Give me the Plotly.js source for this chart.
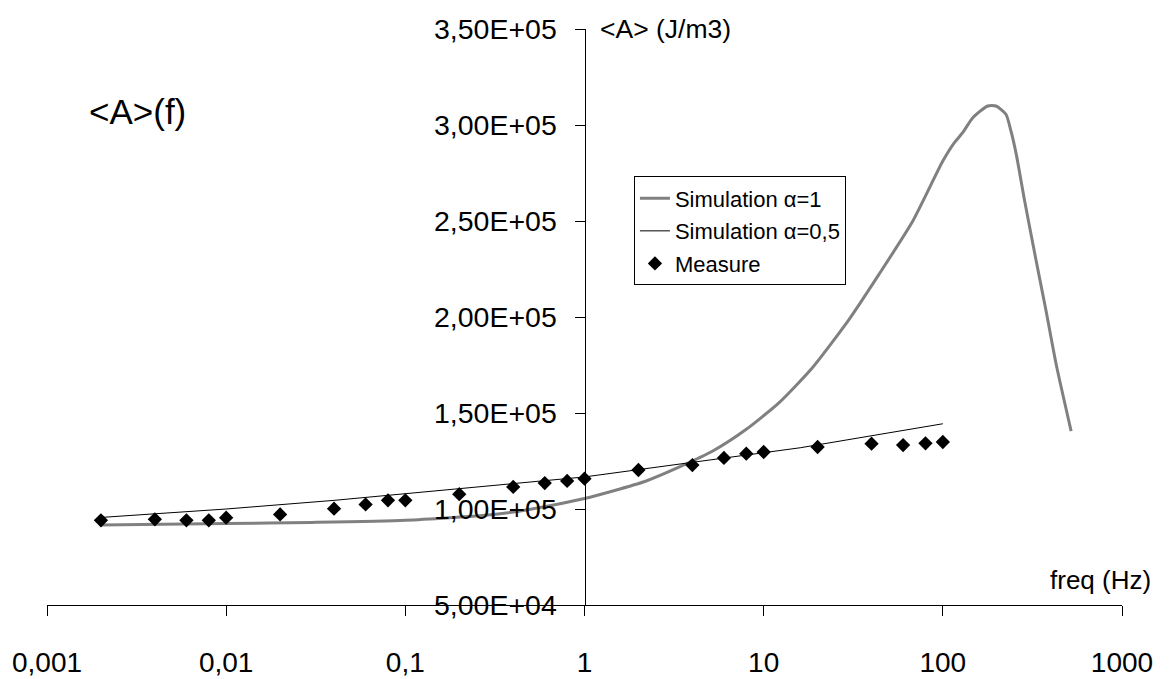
<!DOCTYPE html>
<html>
<head>
<meta charset="utf-8">
<script src="https://cdn.plot.ly/plotly-3.0.1.min.js"></script>
<style>html,body{margin:0;padding:0;background:#fff;}#chart{width:1169px;height:679px;}</style>
</head>
<body>
<div id="chart"></div>
<script>
// Simulation alpha = 1 (grey curve)
const sim1Freq = [0.002, 0.01, 0.03, 0.1, 0.3, 0.5, 1, 1.44, 2.21, 3.39, 5.2, 8, 12.2, 18.7, 30, 44, 68, 100, 116, 129, 147, 178, 198, 225, 240, 257, 285, 332, 377, 429, 520];
const sim1Vals = [91700, 92400, 93000, 94100, 97000, 99900, 105500, 109400, 114600, 121900, 130200, 141500, 155400, 173600, 198800, 222200, 250000, 281200, 290800, 296000, 303800, 309900, 309900, 305600, 296900, 284700, 261300, 229200, 203100, 175400, 140600];

// Simulation alpha = 0.5 (thin black line)
const sim05Freq = [0.002, 0.01, 0.04, 0.2, 1, 4, 16, 100];
const sim05Vals = [95600, 100000, 104500, 110500, 116700, 124300, 131900, 144400];

// Measurements
const measFreq = [0.002, 0.004, 0.006, 0.008, 0.01, 0.02, 0.04, 0.06, 0.08, 0.1, 0.2, 0.4, 0.6, 0.8, 1, 2, 4, 6, 8, 10, 20, 40, 60, 80, 100];
const measVals = [94100, 94600, 94100, 94100, 95500, 97200, 100150, 102400, 104500, 104500, 107700, 111500, 113500, 114600, 115800, 120300, 122900, 126600, 128800, 129700, 132300, 134000, 133300, 134200, 134900];

// Axis ticks
const xTickVals = [0.001, 0.01, 0.1, 1, 10, 100, 1000];
const xTickText = ['0,001', '0,01', '0,1', '1', '10', '100', '1000'];
const yTickVals = [50000, 100000, 150000, 200000, 250000, 300000, 350000];
const yTickText = ['5,00E+04', '1,00E+05', '1,50E+05', '2,00E+05', '2,50E+05', '3,00E+05', '3,50E+05'];

const FONT = 'Liberation Sans, Arial, sans-serif';

const traces = [
  {x: sim1Freq, y: sim1Vals, type: 'scatter', mode: 'lines', name: 'Simulation α=1',
   line: {color: '#808080', width: 3, shape: 'spline', smoothing: 0.6}, legendgroup: 'a'},
  {x: sim05Freq, y: sim05Vals, type: 'scatter', mode: 'lines', name: 'Simulation α=0,5',
   line: {color: '#000000', width: 1}, legendgroup: 'b'},
  {x: measFreq, y: measVals, type: 'scatter', mode: 'markers', name: 'Measure',
   marker: {symbol: 'diamond', color: '#000000', size: 11}, legendgroup: 'c'}
];

const layout = {
  width: 1169, height: 679,
  margin: {l: 47, r: 47, t: 29, b: 74},
  paper_bgcolor: '#ffffff', plot_bgcolor: '#ffffff',
  font: {family: FONT, color: '#000000'},
  showlegend: true,
  legend: {x: 0.546, y: 0.744, xanchor: 'left', yanchor: 'top',
    bgcolor: '#ffffff', bordercolor: '#000000', borderwidth: 1,
    font: {family: FONT, size: 22, color: '#000000'}, tracegroupgap: 1},
  xaxis: {type: 'log', range: [-3, 3], tickmode: 'array', tickvals: xTickVals, ticktext: xTickText,
    showgrid: false, zeroline: false, showline: true, linecolor: '#000000', linewidth: 1,
    ticks: 'outside', ticklen: 10, tickcolor: '#000000', tickwidth: 1,
    ticklabelstandoff: 22,
    tickfont: {family: FONT, size: 28, color: '#000000'}},
  yaxis: {range: [50000, 350000], tickmode: 'array', tickvals: yTickVals, ticktext: yTickText,
    anchor: 'free', position: 0.5,
    showgrid: false, zeroline: false, showline: true, linecolor: '#000000', linewidth: 1,
    ticks: 'outside', ticklen: 10, tickcolor: '#000000', tickwidth: 1,
    ticklabelstandoff: 12,
    tickfont: {family: FONT, size: 28.5, color: '#000000'}},
  annotations: [
    {text: '&lt;A&gt;(f)', xref: 'paper', yref: 'paper', x: 0.0372, y: 0.856,
     xanchor: 'left', yanchor: 'middle', showarrow: false, font: {family: FONT, size: 35, color: '#000000'}},
    {text: '&lt;A&gt; (J/m3)', xref: 'paper', yref: 'paper', x: 0.5126, y: 1.0,
     xanchor: 'left', yanchor: 'middle', showarrow: false, font: {family: FONT, size: 26.5, color: '#000000'}},
    {text: 'freq (Hz)', xref: 'paper', yref: 'paper', x: 1.0293, y: 0.0434,
     xanchor: 'right', yanchor: 'middle', showarrow: false, font: {family: FONT, size: 26, color: '#000000'}}
  ]
};

Plotly.newPlot('chart', traces, layout, {displayModeBar: false, staticPlot: true});
</script>
</body>
</html>
